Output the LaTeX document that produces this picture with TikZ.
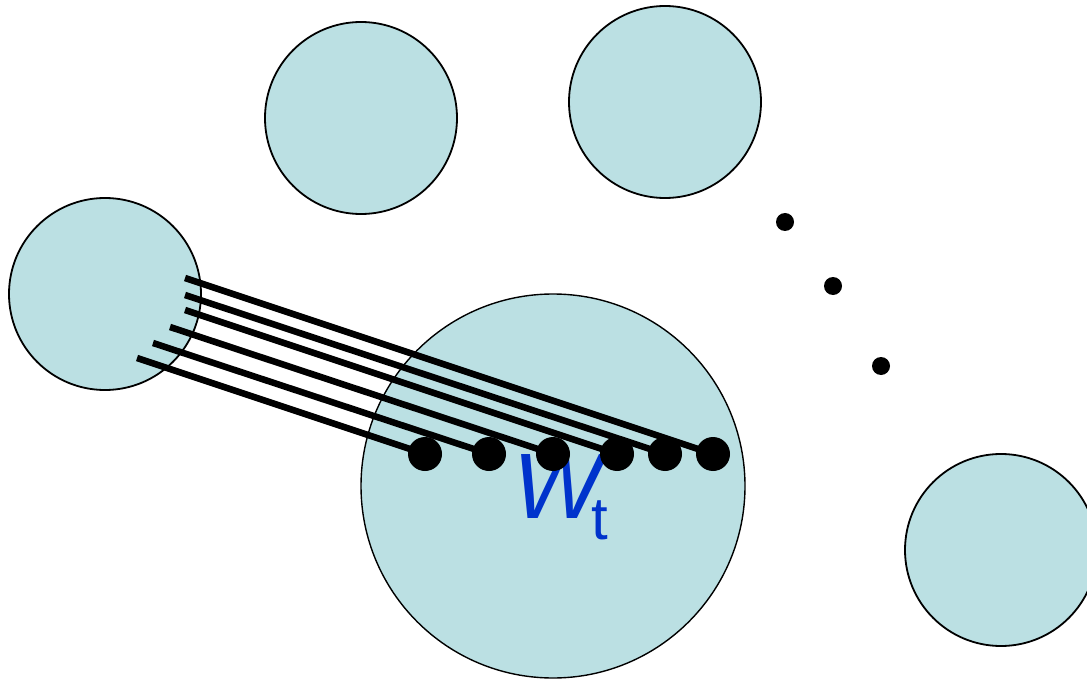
\documentclass[tikz,border=0pt]{standalone}
\usepackage{fontspec}
\setmainfont{Liberation Sans}
\usetikzlibrary{positioning}
\definecolor{poolfill}{RGB}{187,224,227}
\definecolor{labelblue}{RGB}{0,51,204}

\begin{document}
\begin{tikzpicture}[
    x=1pt,y=-1pt,
    pool/.style={circle,draw,line width=1.8pt,fill=poolfill,inner sep=0pt,minimum size=192pt},
    bigpool/.style={pool,line width=1.4pt,minimum size=384pt},
    bead/.style={circle,fill=black,inner sep=0pt,minimum size=34pt},
    gap/.style={circle,fill=black,inner sep=0pt,minimum size=18pt},
    wire/.style={line width=6.5pt,line cap=butt}
]
\useasboundingbox (0,0) rectangle (1087,679);

\node[pool] (src) at (105,294) {};
\node[pool] (poolA) at (361,118) {};
\node[pool] (poolB) at (665,102) {};
\node[pool] (poolC) at (1001,550) {};
\node[bigpool] (target) at (553,486) {};

\node[gap] (g1) at (785,222) {};
\node[gap] (g2) at (833,286) {};
\node[gap] (g3) at (881,366) {};

\coordinate (s1) at (185,278);
\coordinate (s2) at (185,295);
\coordinate (s3) at (185,310);
\coordinate (s4) at (170,327);
\coordinate (s5) at (153,343);
\coordinate (s6) at (137,358);

\node[anchor=base west,inner sep=0pt,text=labelblue,font=\fontsize{93}{93}\selectfont] (wt) at (513,518)
    {\textit{W}\hspace{-17pt}\raisebox{-21pt}{\fontsize{60}{60}\selectfont t}};

\node[bead] (d1) at (425,454) {};
\node[bead] (d2) at (489,454) {};
\node[bead] (d3) at (553,454) {};
\node[bead] (d4) at (617,454) {};
\node[bead] (d5) at (665,454) {};
\node[bead] (d6) at (713,454) {};

\draw[wire] (s1) -- (d6.center);
\draw[wire] (s2) -- (d5.center);
\draw[wire] (s3) -- (d4.center);
\draw[wire] (s4) -- (d3.center);
\draw[wire] (s5) -- (d2.center);
\draw[wire] (s6) -- (d1.center);

\end{tikzpicture}
\end{document}
